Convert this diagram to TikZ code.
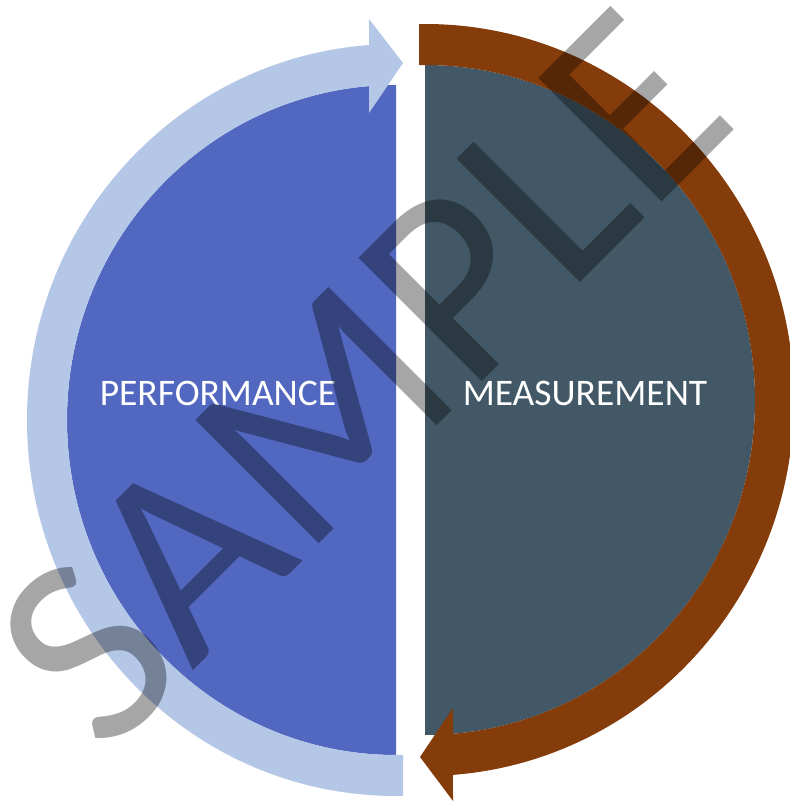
\documentclass[tikz,border=0pt]{standalone}
\usepackage{fontspec}
\setmainfont{Carlito}
\definecolor{perfblue}{HTML}{5267C0}
\definecolor{perfring}{HTML}{B4C7E7}
\definecolor{measslate}{HTML}{425866}
\definecolor{measring}{HTML}{843C0B}

\begin{document}
\begin{tikzpicture}[x=1pt,y=1pt,
  halflabel/.style={text=white,inner sep=0pt,font=\fontsize{37.5}{37.5}\selectfont},
  stamp/.style={text=black,text opacity=0.35,inner sep=0pt,rotate=45,
    font=\fontsize{272}{272}\selectfont}]
\clip (0,0) rectangle (790,804);
\coordinate (perf c) at (396,384);
\coordinate (meas c) at (425,404);

% left half, arrow going up
\fill[perfblue] (396,719) arc[start angle=90,end angle=270,x radius=329,y radius=335] -- cycle;
\fill[perfring] ([shift={(271.09:369 and 376)}]perf c)
  arc[start angle=271.09,end angle=94.196,x radius=369,y radius=376]
  -- (369,785) -- (403,741) -- (369,691)
  -- ([shift={(94.707:329 and 335)}]perf c)
  arc[start angle=94.707,end angle=271.22,x radius=329,y radius=335] -- cycle;

% right half, arrow going down
\fill[measslate] (425,739) arc[start angle=90,end angle=-90,x radius=330,y radius=335] -- cycle;
\fill[measring] ([shift={(90.93:369 and 376)}]meas c)
  arc[start angle=90.93,end angle=-85.65,x radius=369,y radius=376]
  -- (453,3) -- (420,47) -- (453,96)
  -- ([shift={(-85.13:330 and 335)}]meas c)
  arc[start angle=-85.13,end angle=91.04,x radius=330,y radius=335] -- cycle;

\node[halflabel] (perf) at (218,411) {PERFORMANCE};
\node[halflabel] (meas) at (585,411) {MEASUREMENT};

% watermark
\node[stamp] (sample) at (362,426) {SAMPLE};
\end{tikzpicture}
\end{document}
